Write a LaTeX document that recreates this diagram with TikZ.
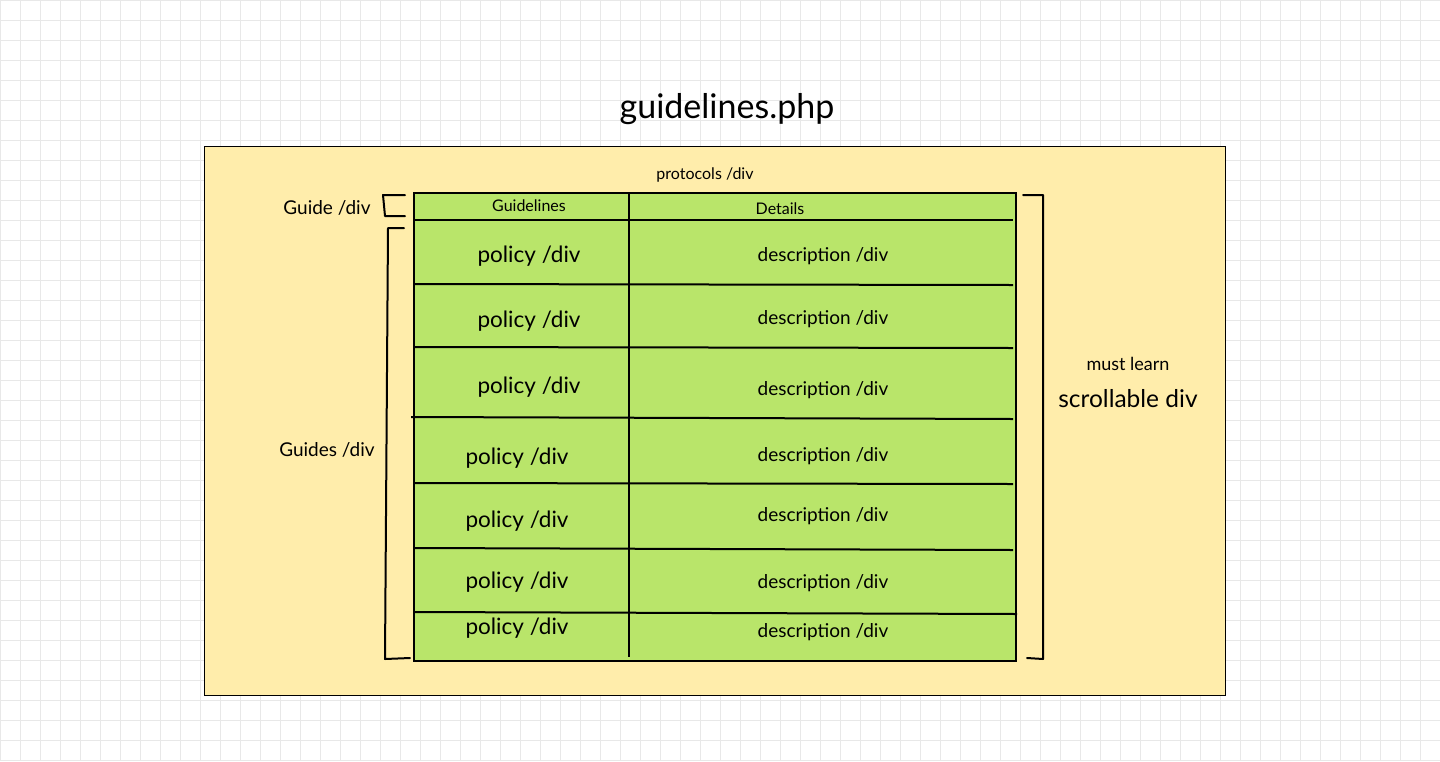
\documentclass[tikz,border=0pt]{standalone}
\usepackage{fontspec}
\setmainfont{Lato}
\definecolor{gridc}{HTML}{E8E8E8}
\definecolor{yel}{HTML}{FFEDAB}
\definecolor{grn}{HTML}{B9E56A}
\tikzset{
  lbl/.style={inner sep=0pt, anchor=center, text=black},
  bracket/.style={draw=black, line width=2pt, line cap=round, line join=round},
  rowline/.style={draw=black, line width=2pt},
}
\begin{document}
\begin{tikzpicture}[x=1pt,y=-1pt]
\useasboundingbox (0,0) rectangle (1440,761);
\fill[white] (0,0) rectangle (1440,761);
\foreach \gx in {0,20,...,1440} \draw[gridc, line width=1pt] (\gx,0) -- (\gx,761);
\foreach \gy in {0,20,...,760} \draw[gridc, line width=1pt] (0,\gy) -- (1440,\gy);
% outer yellow
\node[draw=black, line width=1pt, fill=yel, minimum width=1021pt, minimum height=549pt, inner sep=0pt, anchor=north west] (outer) at (204,146) {};
% green table
\node[draw=black, line width=1.5pt, fill=grn, minimum width=602pt, minimum height=468pt, inner sep=0pt, anchor=north west] (table) at (413,192) {};
% header line and column divider
\draw[line width=2.5pt] (413,220) -- (1013,220);
\draw[rowline] (629,192) -- (629,657);
\draw[rowline] (413,284) -- (1013,285);
\draw[rowline] (413,347) -- (1013,348);
\draw[rowline] (411,417) -- (1013,419);
\draw[rowline] (413,483) -- (1013,484);
\draw[rowline] (413,548) -- (1013,550);
\draw[rowline] (413,612) -- (1017,614);
% brackets
\draw[bracket] (405,195) -- (383,195) -- (385,216) -- (405,216);
\draw[bracket] (404,228) -- (388,228) -- (385,659) -- (410,658);
\draw[bracket] (1023,195) -- (1043,195) -- (1043,659) -- (1027,658);
% texts
\node[lbl, font=\fontsize{34}{38}\selectfont] (title) at (727,109) {guidelines.php};
\node[lbl, font=\fontsize{16}{19}\selectfont] (protocols) at (705,175) {protocols /div};
\node[lbl, font=\fontsize{19}{22}\selectfont] (guide) at (327,208) {Guide /div};
\node[lbl, font=\fontsize{19}{22}\selectfont] (guides) at (327,450) {Guides /div};
\node[lbl, font=\fontsize{16}{19}\selectfont] (hguide) at (529,206) {Guidelines};
\node[lbl, font=\fontsize{16}{19}\selectfont] (hdet) at (780,209) {Details};
\foreach \i/\x/\y in {1/529/256, 2/529/321, 3/529/387, 4/517/458, 5/517/521, 6/517/582, 7/517/628}
  \node[lbl, font=\fontsize{22.5}{26}\selectfont] (pol\i) at (\x,\y) {policy /div};
\foreach \i/\y in {1/256, 2/319, 3/390, 4/456, 5/516, 6/583, 7/632}
  \node[lbl, font=\fontsize{19}{22}\selectfont] (desc\i) at (823,\y) {description /div};
\node[lbl, font=\fontsize{18}{21}\selectfont] (must) at (1128,364) {must learn};
\node[lbl, font=\fontsize{24.5}{29}\selectfont] (scroll) at (1128,399) {scrollable div};
\end{tikzpicture}
\end{document}
